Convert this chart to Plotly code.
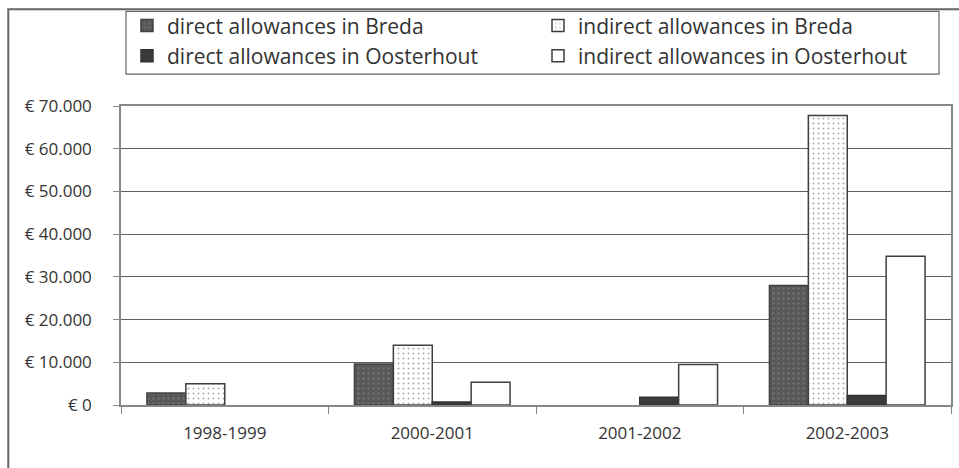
import plotly.graph_objects as go

# Allowances per school year (in euros); None = no allowance recorded
years = ["1998-1999", "2000-2001", "2001-2002", "2002-2003"]
direct_breda = [2800, 9600, None, 28000]
indirect_breda = [5000, 14000, None, 67800]
direct_oosterhout = [None, 700, 1800, 2200]
indirect_oosterhout = [None, 5300, 9500, 34800]

y_ticks = [0, 10000, 20000, 30000, 40000, 50000, 60000, 70000]
y_tick_text = ["€ 0", "€ 10.000", "€ 20.000", "€ 30.000", "€ 40.000",
               "€ 50.000", "€ 60.000", "€ 70.000"]

W, H = 959, 468
ML, MR, MT, MB = 121, 6, 105, 63
PW, PH = W - ML - MR, H - MT - MB

OUTLINE = "#3f3f3f"
FONT = "Open Sans"
TXT = "#333333"
LEG_FONT = dict(family=FONT, size=21, color=TXT)

fig = go.Figure()
fig.add_trace(go.Bar(
    name="direct allowances in Breda", x=years, y=direct_breda, legend="legend",
    marker=dict(color="#585858", line=dict(color=OUTLINE, width=1.5),
                pattern=dict(shape=".", fgcolor="#858585", bgcolor="#585858",
                             size=5, solidity=0.2))))
fig.add_trace(go.Bar(
    name="indirect allowances in Breda", x=years, y=indirect_breda, legend="legend2",
    marker=dict(color="white", line=dict(color=OUTLINE, width=1.5),
                pattern=dict(shape=".", fgcolor="#555555", bgcolor="white",
                             size=5, solidity=0.12))))
fig.add_trace(go.Bar(
    name="direct allowances in Oosterhout", x=years, y=direct_oosterhout, legend="legend",
    marker=dict(color="#3a3a3a", line=dict(color="#333333", width=1.5))))
fig.add_trace(go.Bar(
    name="indirect allowances in Oosterhout", x=years, y=indirect_oosterhout, legend="legend2",
    marker=dict(color="white", line=dict(color=OUTLINE, width=1.5))))


def px_x(px):
    return (px - ML) / PW


def px_y(py):
    return (H - MB - py) / PH


# Outer frame around the whole chart
fig.add_shape(type="rect", xref="paper", yref="paper",
              x0=px_x(8), x1=px_x(965), y0=px_y(475), y1=px_y(8),
              line=dict(color="#666666", width=2), layer="below")
# Box enclosing both legend columns
fig.add_shape(type="rect", xref="paper", yref="paper",
              x0=px_x(126), x1=px_x(941), y0=px_y(73), y1=px_y(10),
              line=dict(color="#666666", width=1.2), layer="below")

leg_common = dict(orientation="v", yanchor="top", xanchor="left",
                  bgcolor="rgba(0,0,0,0)", borderwidth=0, font=LEG_FONT,
                  itemwidth=30, traceorder="normal", tracegroupgap=0)

fig.update_layout(
    width=W, height=H,
    margin=dict(l=ML, r=MR, t=MT, b=MB),
    paper_bgcolor="white", plot_bgcolor="white",
    barmode="group", bargap=0.25, bargroupgap=0,
    font=dict(family=FONT, size=17, color=TXT),
    legend=dict(x=px_x(127), y=px_y(4), **leg_common),
    legend2=dict(x=px_x(539), y=px_y(4), **leg_common),
    xaxis=dict(type="category", showline=True, linecolor="#888888",
               linewidth=1.5, mirror=True, ticks="outside", tickson="boundaries",
               ticklen=7, tickcolor="#888888", showgrid=False,
               ticklabelstandoff=12, tickfont=dict(size=17, color=TXT)),
    yaxis=dict(range=[0, 70000], tickvals=y_ticks, ticktext=y_tick_text,
               showline=True, linecolor="#888888", linewidth=1.5, mirror=True,
               ticks="outside", ticklen=6, tickcolor="#888888",
               showgrid=True, gridcolor="#5e5e5e", gridwidth=1,
               zeroline=False, ticklabelstandoff=18,
               tickfont=dict(size=17, color=TXT)),
)

fig.write_html("out.html")
